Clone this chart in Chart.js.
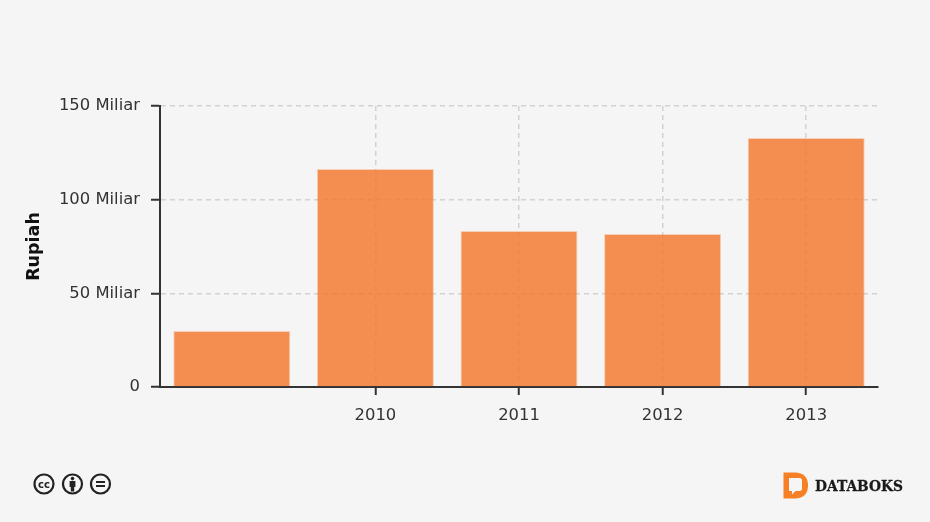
<!DOCTYPE html>
<html>
<head>
<meta charset="utf-8">
<title>Rupiah</title>
<script src="https://cdn.jsdelivr.net/npm/chart.js@4"></script>
<style>
    html, body { margin: 0; padding: 0; background: #f5f5f5; }
    #wrap { position: relative; width: 930px; height: 522px; overflow: hidden; }
    canvas { display: block; }
    .overlay { position: absolute; }
</style>
</head>
<body>
<div id="wrap">
    <canvas id="chart" width="930" height="522"></canvas>
    <!-- lisensi CC -->
    <svg class="overlay" style="left:30px;top:470px" width="86" height="28" viewBox="0 0 86 28">
        <g fill="none" stroke="#222" stroke-width="2.2">
            <circle cx="14" cy="14" r="9.5"/>
            <circle cx="42.5" cy="14" r="9.5"/>
            <circle cx="70.5" cy="14" r="9.5"/>
        </g>
        <text x="14" y="17.5" text-anchor="middle" font-family="DejaVu Sans" font-weight="bold" font-size="10" fill="#222">cc</text>
        <g fill="#222">
            <circle cx="42.5" cy="8.6" r="1.8"/>
            <rect x="39.6" y="11" width="5.8" height="6"/>
            <rect x="40.8" y="16" width="3.4" height="5.5"/>
            <rect x="66" y="11" width="9" height="2"/>
            <rect x="66" y="15" width="9" height="2"/>
        </g>
    </svg>
    <!-- logo databoks -->
    <svg class="overlay" style="left:780px;top:470px" width="130" height="32" viewBox="0 0 130 32">
        <path d="M3.5 2.5 H15 Q28 3 28 15.5 Q28 28 15 28.5 H3.5 Z" fill="#f58025"/>
        <path d="M9 8 H19.5 Q22 8 22 10.5 V19 Q22 21 19.5 21 H15.5 L12 24.5 V21 H9 Z" fill="#f5f5f5"/>
        <text x="35" y="21" font-family="DejaVu Serif" font-weight="bold" font-size="15" stroke="#1a1a1a" stroke-width="0.3" textLength="88" lengthAdjust="spacingAndGlyphs" fill="#1a1a1a">DATABOKS</text>
    </svg>
</div>
<script>
// Data
const categories = ['', '2010', '2011', '2012', '2013'];
const rupiahValues = [29900000000, 116400000000, 83300000000, 81700000000, 132900000000];
const yTicks = [0, 50000000000, 100000000000, 150000000000];
const yTickLabels = ['0', '50 Miliar', '100 Miliar', '150 Miliar'];

const axisColor = '#333333';
const gridColor = '#d2d2d2';
const textColor = '#333333';
const fontFamily = '"DejaVu Sans", sans-serif';

new Chart(document.getElementById('chart'), {
    type: 'bar',
    data: {
        labels: categories,
        datasets: [{
            label: 'Rupiah',
            data: rupiahValues,
            backgroundColor: 'rgba(243, 122, 50, 0.85)',
            borderColor: 'rgba(245, 150, 95, 0.4)',
            borderWidth: 1,
            barPercentage: 0.815,
            categoryPercentage: 1
        }]
    },
    options: {
        responsive: false,
        animation: false,
        layout: { padding: { top: 106, right: 52, bottom: 0, left: 0 } },
        plugins: {
            legend: { display: false },
            tooltip: { enabled: false }
        },
        scales: {
            x: {
                border: { color: axisColor, width: 2, dash: [5, 4] },
                grid: {
                    offset: false,
                    // kategori pertama tanpa label, jadi tanpa garis juga
                    color: ctx => (ctx.index === 0 ? 'rgba(0,0,0,0)' : gridColor),
                    tickColor: ctx => (ctx.index === 0 ? 'rgba(0,0,0,0)' : axisColor),
                    tickLength: 8,
                    tickWidth: 2,
                    lineWidth: 1.5
                },
                ticks: {
                    color: textColor,
                    font: { family: fontFamily, size: 16.4 },
                    padding: 11,
                    maxRotation: 0,
                    autoSkip: false
                },
                afterFit: scale => { scale.height = 135; }
            },
            y: {
                min: 0,
                max: 150000000000,
                border: { color: axisColor, width: 2, dash: [5, 4] },
                grid: {
                    color: gridColor,
                    tickColor: axisColor,
                    tickLength: 9,
                    tickWidth: 2,
                    lineWidth: 1.5
                },
                afterBuildTicks: scale => {
                    scale.ticks = yTicks.map(v => ({ value: v }));
                },
                ticks: {
                    color: textColor,
                    font: { family: fontFamily, size: 16.4 },
                    padding: 11,
                    callback: value => yTickLabels[yTicks.indexOf(value)]
                },
                title: {
                    display: true,
                    text: 'Rupiah',
                    color: '#111111',
                    font: { family: fontFamily, size: 17.5, weight: 'bold' },
                    padding: { top: 24, bottom: 0 }
                },
                afterFit: scale => { scale.width = 160; }
            }
        }
    }
});
</script>
</body>
</html>
